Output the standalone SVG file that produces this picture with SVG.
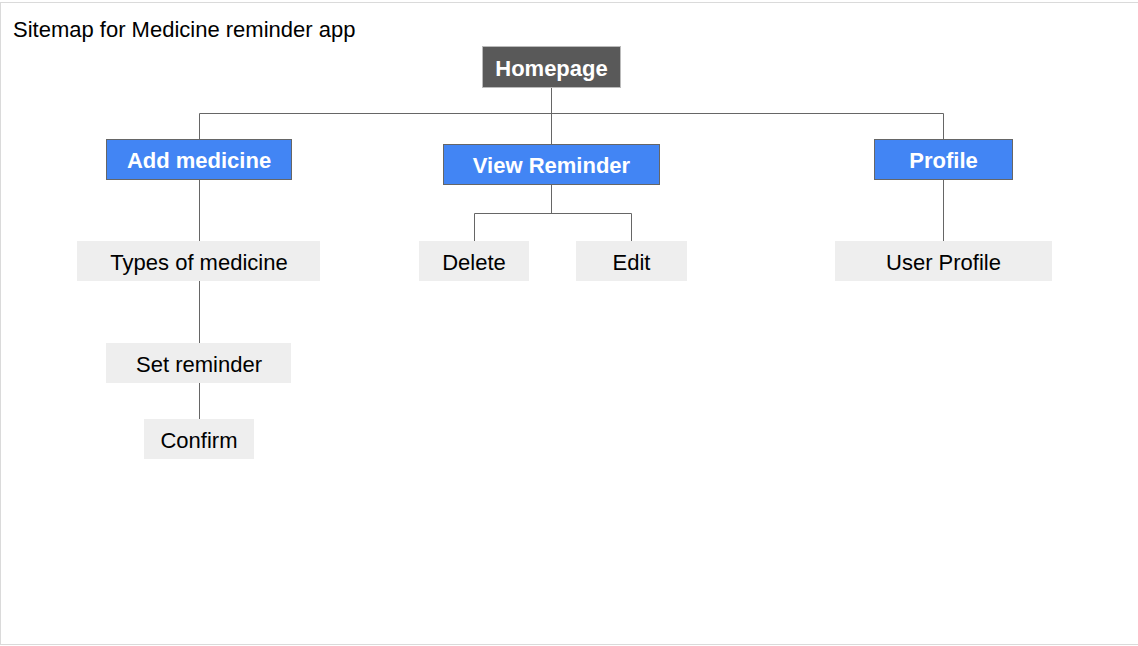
<svg xmlns="http://www.w3.org/2000/svg" width="1138" height="646" viewBox="0 0 1138 646">
<style>
.t{font-family:"Liberation Sans",Arial,sans-serif;font-size:22px;text-anchor:middle}
.b{font-weight:bold;fill:#fff}
.n{fill:#000}
.blue{fill:#4285f4;stroke:#666;stroke-width:1}
.leaf{fill:#eeeeee}
.c{stroke:#666;stroke-width:1;fill:none}
</style>
<rect x="0.5" y="2.5" width="1145" height="642" fill="#fff" stroke="#dadada"/>
<text x="13" y="37" font-family="Liberation Sans,Arial,sans-serif" font-size="22" fill="#000">Sitemap for Medicine reminder app</text>
<g id="connectors">
<path class="c" d="M551.5 87.5V144.5M199.5 139.5V113.5H943.5V139.5"/>
<path class="c" d="M199.5 179.5V241M199.5 281V343M199.5 383V419"/>
<path class="c" d="M551.5 184.5V213.5M474.5 241V213.5H631.5V241"/>
<path class="c" d="M943.5 179.5V241"/>
</g>
<g id="homepage"><rect x="482.5" y="46.5" width="138" height="41" fill="#595959" stroke="#bbb"/><text class="t b" x="551.5" y="76">Homepage</text></g>
<g id="add-medicine"><rect class="blue" x="106.5" y="139.5" width="185" height="40"/><text class="t b" x="199" y="168">Add medicine</text></g>
<g id="view-reminder"><rect class="blue" x="443.5" y="144.5" width="216" height="40"/><text class="t b" x="551.5" y="173">View Reminder</text></g>
<g id="profile"><rect class="blue" x="874.5" y="139.5" width="138" height="40"/><text class="t b" x="943.5" y="168">Profile</text></g>
<g id="types-of-medicine"><rect class="leaf" x="77" y="241" width="243" height="40"/><text class="t n" x="199" y="270">Types of medicine</text></g>
<g id="set-reminder"><rect class="leaf" x="106" y="343" width="185" height="40"/><text class="t n" x="199" y="372">Set reminder</text></g>
<g id="confirm"><rect class="leaf" x="144" y="419" width="110" height="40"/><text class="t n" x="199" y="448">Confirm</text></g>
<g id="delete"><rect class="leaf" x="419" y="241" width="110" height="40"/><text class="t n" x="474" y="270">Delete</text></g>
<g id="edit"><rect class="leaf" x="576" y="241" width="111" height="40"/><text class="t n" x="631.5" y="270">Edit</text></g>
<g id="user-profile"><rect class="leaf" x="835" y="241" width="217" height="40"/><text class="t n" x="943.5" y="270">User Profile</text></g>
</svg>
